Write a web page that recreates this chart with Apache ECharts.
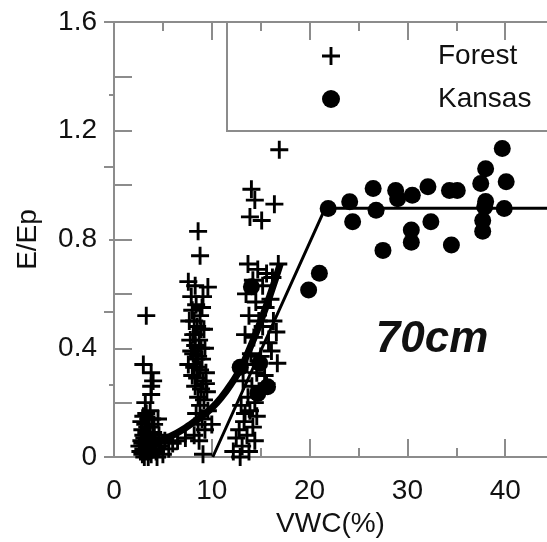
<!DOCTYPE html>
<html>
<head>
<meta charset="utf-8">
<script src="https://cdn.jsdelivr.net/npm/echarts@6/dist/echarts.min.js"></script>
<style>
  html, body { margin: 0; padding: 0; background: #fff; }
  #chart { width: 547px; height: 542px; }
</style>
</head>
<body>
<div id="chart"></div>
<script>
// Forest site: E/Ep against volumetric water content (VWC, %)
const forestPoints = [
  // dry cluster near 3-4 %
  [3.3, 0.52], [3.0, 0.34], [3.8, 0.31], [4.0, 0.28], [3.8, 0.26], [3.8, 0.23],
  [3.3, 0.16], [3.5, 0.14], [3.2, 0.12], [3.6, 0.11], [2.9, 0.10], [3.5, 0.09],
  [4.0, 0.09], [3.0, 0.08], [3.4, 0.07], [2.8, 0.06], [3.8, 0.06], [3.2, 0.05],
  [4.2, 0.05], [2.6, 0.04], [3.6, 0.04], [3.0, 0.03], [4.0, 0.03], [3.3, 0.02],
  [2.7, 0.02], [3.8, 0.01], [3.1, 0.00], [3.5, 0.00], [4.3, 0.02], [4.8, 0.04],
  [5.2, 0.06], [6.0, 0.05], [4.6, 0.08], [3.4, 0.11], [2.8, 0.13], [4.1, 0.12],
  [3.7, 0.17], [2.9, 0.01], [4.4, 0.00], [5.6, 0.03], [3.2, 0.20], [4.5, 0.14],
  [3.1, 0.07], [3.7, 0.08], [2.9, 0.05], [3.5, 0.05], [4.1, 0.07], [3.3, 0.09],
  [3.9, 0.14], [3.0, 0.15], [3.6, 0.02], [4.6, 0.03], [5.0, 0.01], [3.4, 0.04],
  // cluster near 8-9 %
  [8.6, 0.83], [8.8, 0.74], [7.6, 0.645], [8.3, 0.63], [9.6, 0.625], [7.9, 0.59],
  [9.1, 0.59], [8.4, 0.56], [8.0, 0.54], [8.8, 0.52], [7.7, 0.50], [8.5, 0.48],
  [9.2, 0.47], [8.1, 0.45], [8.7, 0.43], [8.3, 0.41], [7.9, 0.39], [8.6, 0.37],
  [9.0, 0.36], [7.6, 0.34], [8.2, 0.33], [8.8, 0.32], [9.4, 0.31], [8.0, 0.30],
  [8.5, 0.29], [9.1, 0.28], [8.3, 0.26], [8.9, 0.25], [9.5, 0.24], [8.6, 0.22],
  [9.2, 0.21], [8.8, 0.19], [9.6, 0.17], [8.4, 0.16], [9.0, 0.14], [8.6, 0.12],
  [9.3, 0.10], [8.2, 0.08], [8.7, 0.06], [9.1, 0.01], [7.3, 0.07], [6.5, 0.06],
  [10.0, 0.12], [8.9, 0.47], [8.2, 0.50], [9.3, 0.40], [7.8, 0.43], [9.0, 0.55],
  [8.4, 0.36], [8.1, 0.38], [8.9, 0.40], [8.5, 0.33], [8.3, 0.45], [9.4, 0.27],
  // cluster near 12-17 %
  [16.9, 1.13], [14.05, 0.985], [14.4, 0.945], [16.4, 0.93], [13.9, 0.883], [15.1, 0.87],
  [13.7, 0.71], [16.8, 0.71], [14.7, 0.69], [15.6, 0.675], [16.2, 0.66], [14.2, 0.65],
  [15.2, 0.63], [13.5, 0.60], [16.0, 0.58], [14.5, 0.57], [15.5, 0.55], [13.8, 0.52],
  [14.8, 0.50], [16.3, 0.50], [15.2, 0.48], [16.6, 0.46], [13.4, 0.45], [14.3, 0.44],
  [15.8, 0.42], [16.1, 0.39], [14.0, 0.38], [15.0, 0.37], [16.7, 0.345], [13.6, 0.34],
  [14.6, 0.31], [15.4, 0.30], [13.2, 0.28], [14.1, 0.26], [15.0, 0.24], [13.7, 0.22],
  [14.4, 0.20], [13.0, 0.19], [13.9, 0.17], [14.6, 0.15], [13.3, 0.13], [14.2, 0.11],
  [12.8, 0.10], [13.6, 0.08], [14.4, 0.06], [13.1, 0.04], [12.9, 0.00], [13.8, 0.02],
  [12.5, 0.07], [12.2, 0.02], [13.4, 0.16], [15.6, 0.27]
];

// Kansas site
const kansasPoints = [
  [12.9, 0.33], [14.05, 0.626], [14.9, 0.345], [15.7, 0.258], [14.7, 0.234],
  [19.9, 0.614], [21.0, 0.676], [21.9, 0.914], [24.1, 0.939], [24.4, 0.865],
  [26.5, 0.988], [26.8, 0.908], [27.5, 0.76], [28.8, 0.98], [29.0, 0.95],
  [30.5, 0.963], [30.4, 0.835], [30.4, 0.79], [32.1, 0.994], [32.4, 0.865],
  [34.3, 0.98], [35.1, 0.98], [34.5, 0.78], [37.5, 1.006], [38.0, 1.06],
  [39.7, 1.135], [40.1, 1.012], [38.0, 0.94], [37.9, 0.92], [39.9, 0.914],
  [37.7, 0.87], [37.7, 0.83]
];

// Fitted curves
const forestFit = [
  [3.8, 0.05], [5, 0.065], [6, 0.08], [7, 0.10], [8, 0.125], [9, 0.15], [10, 0.18],
  [11, 0.22], [12, 0.27], [13, 0.33], [14, 0.41], [15, 0.50], [16, 0.60], [17, 0.71]
];
const kansasFit = [[10.1, 0], [21.6, 0.915], [50, 0.915]];

const xTicks = { min: 0, max: 50, step: 10 };
const yTicks = { min: 0, max: 1.6, step: 0.4 };

const plusPath = 'path://M0,8.4H8.4V0H11.6V8.4H20V11.6H11.6V20H8.4V11.6H0Z';
const FONT = 'Liberation Sans, Arial, sans-serif';
const AXIS_GREY = '#8c8c8c';

const chart = echarts.init(document.getElementById('chart'));

const frameAxis = {
  axisLine: { show: true, lineStyle: { color: AXIS_GREY, width: 2 } },
  splitLine: { show: false }
};

chart.setOption({
  animation: false,
  backgroundColor: '#fff',
  grid: [
    // main plotting area; the x range runs past the right edge of the page
    { left: 114, top: 22, right: -56, bottom: 85, outerBoundsMode: 'none', containLabel: false },
    // frame that carries the right-hand tick marks at the page edge
    { left: 114, top: 22, right: -2, bottom: 85, outerBoundsMode: 'none', containLabel: false }
  ],
  legend: {
    data: ['Forest', 'Kansas'],
    orient: 'vertical',
    left: 322,
    top: 41,
    padding: 0,
    itemWidth: 18,
    itemHeight: 18,
    itemGap: 13,
    textStyle: { fontFamily: FONT, fontSize: 28, color: '#111', lineHeight: 30, padding: [0, 0, 0, 93] }
  },
  xAxis: [
    Object.assign({}, frameAxis, {
      type: 'value', position: 'bottom', gridIndex: 0,
      min: xTicks.min, max: xTicks.max, interval: xTicks.step,
      name: 'VWC(%)', nameLocation: 'middle', nameGap: 52,
      nameTextStyle: { fontFamily: FONT, fontSize: 28, color: '#111', padding: [0, 56, 0, 0] },
      axisTick: { show: true, inside: true, length: 18, lineStyle: { color: AXIS_GREY, width: 2 } },
      minorTick: { show: true, splitNumber: 2, length: 9, lineStyle: { color: AXIS_GREY, width: 2 } },
      axisLabel: { fontFamily: FONT, fontSize: 28, color: '#111', margin: 20, showMaxLabel: false }
    }),
    Object.assign({}, frameAxis, {
      type: 'value', position: 'top', gridIndex: 0,
      min: xTicks.min, max: xTicks.max, interval: xTicks.step,
      axisTick: { show: true, inside: true, length: 18, lineStyle: { color: AXIS_GREY, width: 2 } },
      minorTick: { show: true, splitNumber: 2, length: 9, lineStyle: { color: AXIS_GREY, width: 2 } },
      axisLabel: { show: false }
    }),
    {
      type: 'value', gridIndex: 1, min: 0, max: 1, show: false
    }
  ],
  yAxis: [
    Object.assign({}, frameAxis, {
      type: 'value', position: 'left', gridIndex: 0,
      min: yTicks.min, max: yTicks.max, interval: yTicks.step,
      name: 'E/Ep', nameLocation: 'middle', nameGap: 72, nameRotate: 90,
      nameTextStyle: { fontFamily: FONT, fontSize: 28, color: '#111' },
      axisTick: { show: true, inside: true, length: 18, lineStyle: { color: AXIS_GREY, width: 2 } },
      minorTick: { show: true, splitNumber: 2, length: 18, lineStyle: { color: AXIS_GREY, width: 2 } },
      axisLabel: { fontFamily: FONT, fontSize: 28, color: '#111', margin: 17 }
    }),
    {
      type: 'value', position: 'right', gridIndex: 1,
      min: 0, max: 3, interval: 1,
      axisLine: { show: false },
      splitLine: { show: false },
      axisTick: { show: true, inside: true, length: 10, lineStyle: { color: AXIS_GREY, width: 2 } },
      minorTick: { show: true, splitNumber: 2, length: 5, lineStyle: { color: AXIS_GREY, width: 2 } },
      axisLabel: { show: false }
    }
  ],
  graphic: [
    {
      type: 'rect', z: 1,
      shape: { x: 227, y: 22, width: 400, height: 109 },
      style: { fill: 'none', stroke: AXIS_GREY, lineWidth: 2 }
    },
    {
      type: 'text', z: 10,
      x: 432, y: 340,
      style: {
        text: '70cm', fontFamily: FONT, fontSize: 44, fontWeight: 'bold', fontStyle: 'italic',
        fill: '#111', align: 'center', verticalAlign: 'middle'
      }
    }
  ],
  series: [
    {
      name: 'Forest', type: 'scatter', data: forestPoints,
      symbol: plusPath, symbolSize: 18,
      itemStyle: { color: '#000', opacity: 1 }, z: 2
    },
    {
      name: 'Forest fit', type: 'line', data: forestFit, smooth: true,
      showSymbol: false, lineStyle: { color: '#000', width: 7 }, z: 3
    },
    {
      name: 'Kansas fit', type: 'line', data: kansasFit,
      showSymbol: false, lineStyle: { color: '#000', width: 3 }, z: 3
    },
    {
      name: 'Kansas', type: 'scatter', data: kansasPoints,
      symbol: 'circle', symbolSize: 17,
      itemStyle: { color: '#000', opacity: 1 }, z: 4
    }
  ]
});
</script>
</body>
</html>
